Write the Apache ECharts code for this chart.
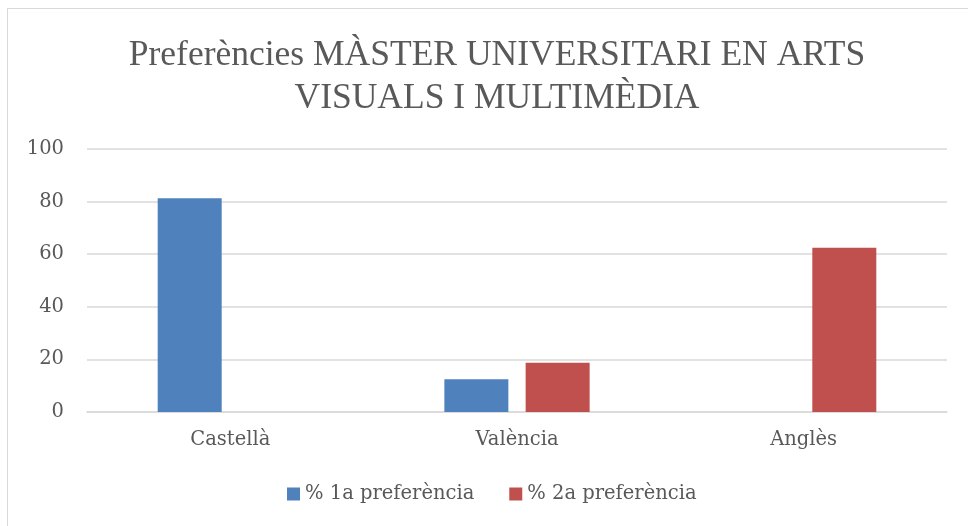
<!DOCTYPE html>
<html>
<head>
<meta charset="utf-8">
<script src="https://cdn.jsdelivr.net/npm/echarts@6/dist/echarts.min.js"></script>
<style>
  html, body { margin: 0; padding: 0; background: #fff; }
  #chart { position: absolute; left: 0; top: 0; width: 968px; height: 526px; }
  .frame {
    position: absolute; left: 7px; top: 8px; width: 980px; height: 540px;
    border: 1.5px solid #d9d9d9; box-sizing: border-box; pointer-events: none;
  }
</style>
</head>
<body>
<div id="chart"></div>
<div class="frame"></div>
<script>
// chart data
const titleText = 'Preferències MÀSTER UNIVERSITARI EN ARTS\nVISUALS I MULTIMÈDIA';
const categories = ['Castellà', 'València', 'Anglès'];
const seriesNames = ['% 1a preferència', '% 2a preferència'];
const firstPref = [81.25, 12.5, 0];
const secondPref = [0, 18.75, 62.5];
const yTicks = { min: 0, max: 100, interval: 20 };

var chartDom = document.getElementById('chart');
var myChart = echarts.init(chartDom);
var titleFont = "'Liberation Serif', serif";
var font = "'DejaVu Serif', serif";
var option = {
  animation: false,
  color: ['#4f81bd', '#c0504d'],
  title: {
    text: titleText,
    left: 492,
    textAlign: 'center',
    top: 29,
    textStyle: {
      fontFamily: titleFont,
      fontWeight: 'normal',
      fontSize: 35.5,
      lineHeight: 43,
      color: '#595959'
    }
  },
  legend: {
    bottom: 17,
    left: 282,
    itemWidth: 13,
    itemHeight: 13,
    itemGap: 35,
    icon: 'rect',
    data: seriesNames,
    textStyle: { fontFamily: font, fontSize: 19.5, color: '#595959' }
  },
  grid: { left: 87, right: 21, top: 149, bottom: 114, containLabel: false },
  xAxis: {
    type: 'category',
    data: categories,
    axisTick: { show: false },
    axisLine: { lineStyle: { color: '#d9d9d9', width: 1.5 } },
    axisLabel: { fontFamily: font, fontSize: 19.5, color: '#595959', margin: 18 }
  },
  yAxis: {
    type: 'value',
    min: yTicks.min,
    max: yTicks.max,
    interval: yTicks.interval,
    axisLine: { show: false },
    axisTick: { show: false },
    splitLine: { lineStyle: { color: '#d9d9d9', width: 1.5 } },
    axisLabel: { fontFamily: font, fontSize: 19.5, color: '#595959', margin: 23 }
  },
  series: [
    { name: seriesNames[0], type: 'bar', data: firstPref, barWidth: 64, barGap: '27%' },
    { name: seriesNames[1], type: 'bar', data: secondPref, barWidth: 64, barGap: '27%' }
  ]
};
myChart.setOption(option);
</script>
</body>
</html>
